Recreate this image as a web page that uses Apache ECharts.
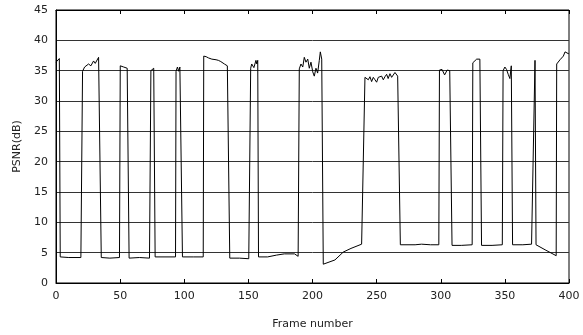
<!DOCTYPE html>
<html>
<head>
<meta charset="utf-8">
<script src="https://cdn.jsdelivr.net/npm/echarts@6/dist/echarts.min.js"></script>
<style>
  html, body { margin: 0; padding: 0; background: #fff; }
  #chart { width: 583px; height: 335px; }
</style>
</head>
<body>
<div id="chart"></div>
<script>
// frame index and PSNR (dB)
var frames = [
  0, 1.5, 2.6, 3.3, 10, 19.4,
  20.7, 22.3, 23.6, 25.4, 27.2, 29.3, 30.6, 33.2, 34.5, 35.3, 42, 49.5,
  50.1, 51.4, 52.8, 54, 55.5, 56.6, 57, 65, 72.9,
  74, 75.3, 76.2, 77.3, 85, 93.2,
  93.6, 94.7, 95.7, 96.6, 97.3, 98.1, 98.6, 107, 114.8,
  115.2, 117.1, 118.9, 120.2, 121.5, 122.8, 124.8, 126.6, 128.5, 130, 131.3, 132.6, 133.6, 134.8, 135.5, 143, 150.3, 150.8,
  151.8, 152.6, 154.3, 155.9, 156.6, 157.3, 157.9, 165, 172, 178, 186, 188.8,
  189.7, 191, 192.4, 193.6, 194.9, 196.3, 197.5, 198.8, 200.2, 201.4, 202.7, 204, 205.3, 206.1, 207.2, 207.9,
  208.4, 217.5, 224, 230, 238.3, 239.8,
  240.9, 242.2, 243.5, 244.8, 246.1, 247.4, 248.7, 250, 251.3, 252.6, 253.9, 255.2, 256.5, 257.8, 259, 260.4, 261.7, 262.9, 264.3, 265.6, 266.4, 267.4,
  268.5, 280, 285, 292, 298.5,
  299, 301, 303, 305, 307, 308.2, 308.8, 316, 324.5,
  325, 326.5, 328, 329.5, 330.5, 331.2, 331.8, 340, 348,
  348.6, 350, 351.3, 352.6, 353.9, 355, 355.6, 356, 364, 370.8,
  373.5, 374.3, 382, 390,
  390.4, 391.7, 393, 394.4, 395.6, 396.9, 398.2, 399.5, 400
];
var psnr = [
  36.4, 36.6, 37.0, 4.3, 4.2, 4.2,
  34.9, 35.6, 35.4, 36.1, 35.8, 36.6, 36.2, 37.2, 37.3, 4.2, 4.1, 4.2,
  35.8, 36.1, 35.6, 35.8, 35.4, 35.5, 4.1, 4.2, 4.1,
  35.0, 35.3, 35.4, 4.3, 4.3, 4.3,
  34.9, 35.6, 34.9, 35.6, 35.3, 35.4, 4.3, 4.3, 4.3,
  37.4, 37.3, 37.1, 37.3, 36.9, 37.2, 36.8, 36.7, 36.5, 36.3, 36.1, 36.0, 35.8, 35.8, 4.1, 4.1, 4.0, 3.9,
  35.4, 36.1, 35.5, 36.7, 36.1, 36.7, 4.3, 4.3, 4.6, 4.8, 4.8, 4.4,
  35.3, 36.1, 35.6, 37.2, 36.4, 36.9, 35.4, 36.4, 34.8, 34.1, 35.4, 34.6, 36.7, 38.1, 36.9, 37.1,
  3.1, 3.8, 5.1, 5.7, 6.4, 6.4,
  33.9, 34.1, 33.5, 34.0, 33.2, 33.9, 33.5, 33.1, 33.9, 33.7, 34.1, 33.5, 34.0, 34.4, 33.7, 34.5, 33.9, 34.1, 34.7, 34.5, 34.1, 34.0,
  6.3, 6.3, 6.4, 6.3, 6.3,
  35.1, 35.2, 34.3, 35.1, 35.0, 35.0, 6.2, 6.2, 6.3,
  36.3, 36.1, 36.9, 36.7, 36.9, 36.8, 6.2, 6.2, 6.3,
  35.0, 35.6, 35.2, 34.4, 33.7, 35.8, 35.7, 6.3, 6.3, 6.4,
  36.7, 6.3, 5.4, 4.5,
  36.1, 36.3, 36.8, 36.9, 37.4, 38.1, 38.3, 37.8, 37.9
];
var yTicks = [0, 5, 10, 15, 20, 25, 30, 35, 40, 45];

var chart = echarts.init(document.getElementById('chart'));
var font = 'DejaVu Sans';
var lineData = frames.map(function (f, i) { return [f, psnr[i]]; });

var option = {
  animation: false,
  backgroundColor: '#fff',
  textStyle: { fontFamily: font },
  grid: { left: 56, right: 14, top: 10, bottom: 51, show: true, borderColor: '#000', borderWidth: 1 },
  xAxis: [{
    type: 'value', min: 0, max: 400, interval: 50,
    name: 'Frame number', nameLocation: 'middle', nameGap: 36,
    nameTextStyle: { color: '#222', fontSize: 11, fontFamily: font },
    axisLine: { show: true, lineStyle: { color: '#000' } },
    axisTick: { show: true, inside: true, length: 4, lineStyle: { color: '#000' } },
    axisLabel: { color: '#222', fontSize: 11, fontFamily: font, margin: 8 },
    splitLine: { show: false }
  }, {
    type: 'value', min: 0, max: 400, interval: 50, position: 'top',
    axisLine: { show: true, lineStyle: { color: '#000' } },
    axisTick: { show: true, inside: true, length: 4, lineStyle: { color: '#000' } },
    axisLabel: { show: false },
    splitLine: { show: false }
  }],
  yAxis: [{
    type: 'value', min: yTicks[0], max: yTicks[yTicks.length - 1], interval: 5,
    name: 'PSNR(dB)', nameLocation: 'middle', nameGap: 32, nameRotate: 90,
    nameTextStyle: { color: '#222', fontSize: 11, fontFamily: font },
    axisLine: { show: true, lineStyle: { color: '#000' } },
    axisTick: { show: false },
    axisLabel: { color: '#222', fontSize: 11, fontFamily: font, margin: 8 },
    splitLine: { show: true, lineStyle: { color: '#333', width: 1 } }
  }],
  series: [{
    type: 'line',
    data: lineData,
    showSymbol: false,
    symbol: 'none',
    lineStyle: { color: '#000', width: 1 },
    silent: true
  }]
};
chart.setOption(option);
</script>
</body>
</html>
